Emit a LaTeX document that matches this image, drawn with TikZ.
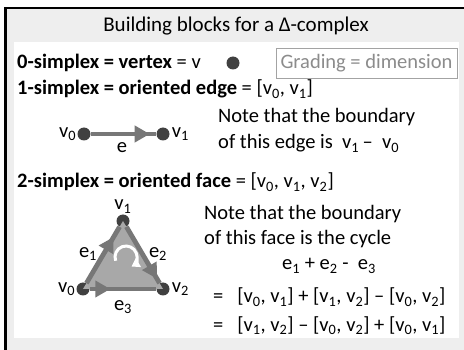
\documentclass[tikz,border=0pt]{standalone}
\usepackage{fontspec}
\setmainfont{Carlito}
\usepackage{tikz}
\usetikzlibrary{arrows.meta,positioning,decorations.markings}
\definecolor{panelgray}{HTML}{EEEEEE}
\definecolor{dotgray}{HTML}{404040}
\definecolor{edgegray}{HTML}{777777}
\definecolor{facegray}{HTML}{A8A8A8}
\definecolor{notegray}{HTML}{8C8C8C}
\newcommand{\vx}[1]{v\textsubscript{#1}}
\newcommand{\ex}[1]{e\textsubscript{#1}}

\begin{document}
\begin{tikzpicture}[x=1pt,y=-1pt,
  txt/.style={anchor=base west,inner sep=0pt,font=\fontsize{20.5}{24}\selectfont},
  lab/.style={inner sep=0pt,font=\fontsize{20.5}{24}\selectfont},
  dot/.style={circle,fill=dotgray,minimum size=13pt,inner sep=0pt},
  edge/.style={draw=edgegray,line width=4.8pt,postaction={decorate},
    decoration={markings,mark=at position #1 with {\arrow{Triangle[length=15pt,width=16pt,color=edgegray]}}}}]
\useasboundingbox (0,0) rectangle (464,350);
% frame and panels
\fill[panelgray] (5,8) rectangle (464,350);
\draw[line width=2.5pt] (5.3,350) -- (5.3,7.8) -- (464,7.8);
\fill[white] (14,42) rectangle (459,338);
\node[anchor=base,inner sep=0pt,font=\fontsize{21}{25}\selectfont] (title) at (236,32) {Building blocks for a Δ-complex};
% 0-simplex
\node[txt] (l0) at (17,69) {\textbf{0-simplex = vertex} = v};
\node[dot] (pt) at (233,63) {};
\node[draw=notegray!80,line width=0.9pt,text=notegray,minimum width=181pt,minimum height=30pt,inner sep=0pt,font=\fontsize{20.5}{24}\selectfont] (grade) at (366.5,63) {Grading = dimension};
% 1-simplex
\node[txt] (l1) at (17,95) {\textbf{1-simplex = oriented edge} = [\vx0, \vx1]};
\node[dot] (a0) at (84,134) {};
\node[dot] (a1) at (163,134) {};
\draw[edge=0.9] (a0) -- (a1);
\node[lab,left=1pt of a0] (a0lab) {\vx0};
\node[lab,right=2pt of a1] (a1lab) {\vx1};
\node[lab] (elab) at (122,148) {e};
\node[txt] (n1) at (218,123) {Note that the boundary};
\node[txt] (n2) at (218,149) {of this edge is\ \ \vx1\,–\ \ \vx0};
% 2-simplex
\node[txt] (l2) at (17,188) {\textbf{2-simplex = oriented face} = [\vx0, \vx1, \vx2]};
\node[dot] (b1) at (123,221) {};
\node[dot] (b0) at (83,289) {};
\node[dot] (b2) at (163,289) {};
\fill[facegray] (b0.center) -- (b1.center) -- (b2.center) -- cycle;
\draw[edge=0.82] (b0) -- (b1);
\draw[edge=0.92] (b1) -- (b2);
\draw[edge=0.31] (b0) -- (b2);
\coordinate (spin) at (126,257);
\draw[white,line width=3pt,-{Triangle[length=8pt,width=10pt]}] ([shift={(200:11pt)}]spin) arc[start angle=200,end angle=-60,radius=11pt];
\node[lab,above=1pt of b1] (b1lab) {\vx1};
\node[lab,left=1pt of b0] (b0lab) {\vx0};
\node[lab,right=2pt of b2] (b2lab) {\vx2};
\node[lab] (e1lab) at (88,254) {\ex1};
\node[lab] (e2lab) at (158,254) {\ex2};
\node[lab] (e3lab) at (123,307) {\ex3};
\node[txt] (n3) at (204,220) {Note that the boundary};
\node[txt] (n4) at (204,245) {of this face is the cycle};
\node[txt] (sum) at (282,270) {\ex1 + \ex2 -\ \ \ex3};
\node[txt] (eq1) at (213,303) {=\ \ \ [\vx0, \vx1] + [\vx1, \vx2] – [\vx0, \vx2]};
\node[txt] (eq2) at (213,331) {=\ \ \ [\vx1, \vx2] – [\vx0, \vx2] + [\vx0, \vx1]};
\end{tikzpicture}
\end{document}
